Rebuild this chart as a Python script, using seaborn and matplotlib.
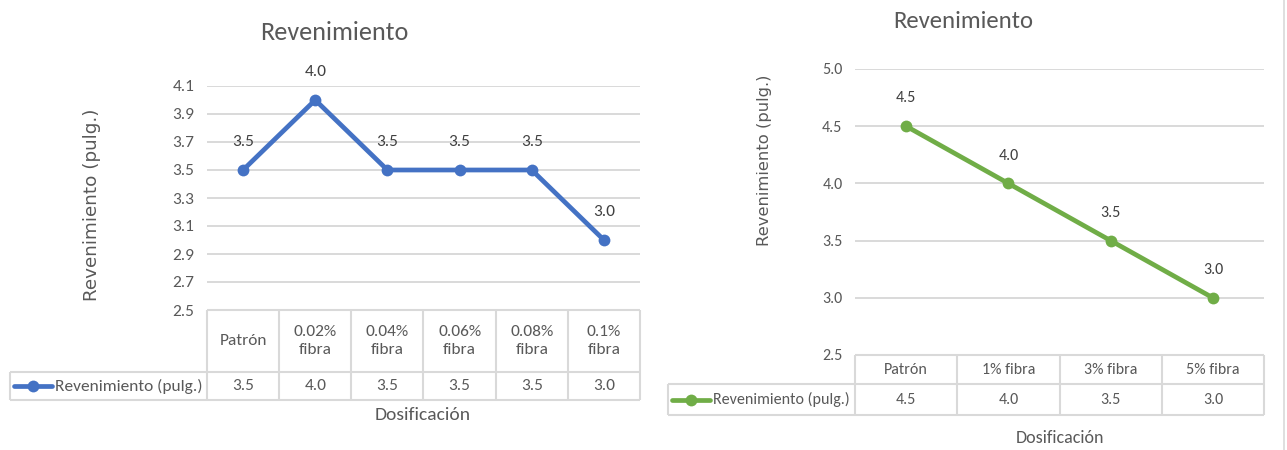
import numpy as np
import pandas as pd
import matplotlib
matplotlib.use("Agg")
import matplotlib.pyplot as plt
import matplotlib.transforms as mtransforms
import seaborn as sns

# --- datos ---
cat_izq = ["Patrón", "0.02%\nfibra", "0.04%\nfibra", "0.06%\nfibra", "0.08%\nfibra", "0.1%\nfibra"]
rev_izq = [3.5, 4.0, 3.5, 3.5, 3.5, 3.0]
ticks_izq = [2.5, 2.7, 2.9, 3.1, 3.3, 3.5, 3.7, 3.9, 4.1]

cat_der = ["Patrón", "1% fibra", "3% fibra", "5% fibra"]
rev_der = [4.5, 4.0, 3.5, 3.0]
ticks_der = [2.5, 3.0, 3.5, 4.0, 4.5, 5.0]

serie = "Revenimiento (pulg.)"
titulo = "Revenimiento"
eje_x = "Dosificación"

AZUL = "#4472C4"
VERDE = "#70AD47"
GRIS_TXT = "#595959"
GRIS_LIN = "#D9D9D9"

sns.set_theme(style="white")
plt.rcParams["font.family"] = ["Carlito", "Lato", "DejaVu Sans"]

W, H = 1287, 450
fig = plt.figure(figsize=(W / 100, H / 100), dpi=100)
fig.patch.set_facecolor("white")

# capa de fondo en pixeles para tabla y textos
over = fig.add_axes([0, 0, 1, 1])
over.set_xlim(0, W)
over.set_ylim(H, 0)
over.axis("off")


def grafico(cats, vals, ticks, color, x0, x1, ytop, ybot, yhead, yrow, lab_x,
            tit_xy, ylab_xy, xlab_xy, fs, ylab_fs, tit_fs, xlab_fs):
    n = len(cats)
    ax = fig.add_axes([x0 / W, 1 - ybot / H, (x1 - x0) / W, (ybot - ytop) / H])
    ax.patch.set_visible(False)

    df = pd.DataFrame({"pos": np.arange(n), "valor": vals})
    sns.lineplot(data=df, x="pos", y="valor", ax=ax, color=color, sort=False,
                 linewidth=3.4, marker="o", markersize=8.5, markeredgewidth=0)

    ax.set_xlim(-0.5, n - 0.5)
    ax.set_ylim(ticks[0], ticks[-1])
    ax.set_yticks(ticks)
    ax.set_yticklabels([f"{t:.1f}" for t in ticks])
    ax.set_xticks([])
    ax.set_xlabel("")
    ax.set_ylabel("")
    ax.yaxis.grid(True, color=GRIS_LIN, linewidth=1.4)
    ax.set_axisbelow(True)
    for s in ax.spines.values():
        s.set_visible(False)
    ax.tick_params(axis="y", length=0, pad=9, labelsize=fs, labelcolor=GRIS_TXT)

    # etiquetas de datos
    for i, v in enumerate(vals):
        ax.annotate(f"{v:.1f}", (i, v), xytext=(0, 20), textcoords="offset points",
                    ha="center", va="center", fontsize=fs, color="#404040")

    # tabla de datos
    tr = mtransforms.blended_transform_factory(ax.transData, over.transData)
    kw = dict(color=GRIS_LIN, linewidth=1.5, solid_capstyle="butt")
    over.plot([-0.5, n - 0.5], [ybot, ybot], transform=tr, **kw)
    over.plot([lab_x, x1], [yhead, yhead], **kw)
    over.plot([lab_x, x1], [yrow, yrow], **kw)
    over.plot([lab_x, lab_x], [yhead, yrow], **kw)
    for i in range(n + 1):
        over.plot([i - 0.5, i - 0.5], [ybot, yrow], transform=tr, **kw)
    for i, (c, v) in enumerate(zip(cats, vals)):
        over.text(i, (ybot + yhead) / 2, c, transform=tr, ha="center", va="center",
                  fontsize=fs, color=GRIS_TXT, linespacing=1.4)
        over.text(i, (yhead + yrow) / 2, f"{v:.1f}", transform=tr, ha="center",
                  va="center", fontsize=fs, color=GRIS_TXT)

    # clave de la leyenda
    ym = (yhead + yrow) / 2
    over.plot([lab_x + 4, lab_x + 42], [ym, ym], color=color, linewidth=3.4)
    over.plot([lab_x + 23], [ym], color=color, marker="o", markersize=8.5, markeredgewidth=0)
    over.text(lab_x + 45, ym, serie, ha="left", va="center", fontsize=fs, color=GRIS_TXT)

    over.text(*tit_xy, titulo, ha="center", va="center", fontsize=tit_fs, color=GRIS_TXT)
    over.text(*ylab_xy, serie, ha="center", va="center", rotation=90, fontsize=ylab_fs,
              color=GRIS_TXT, family="DejaVu Sans")
    over.text(*xlab_xy, eje_x, ha="center", va="center", fontsize=xlab_fs, color=GRIS_TXT)
    return ax


grafico(cat_izq, rev_izq, ticks_izq, AZUL, 207, 640, 86, 310, 372, 400, 10,
        (334, 32), (92, 205), (423, 415), 12.5, 13.2, 18.8, 14)
grafico(cat_der, rev_der, ticks_der, VERDE, 855, 1264, 69, 355, 384, 415, 668,
        (963, 22), (765, 160), (1060, 438), 11.5, 11.8, 17.8, 13)

over.plot([1284, 1284], [0, H], color=GRIS_LIN, linewidth=1.2)

fig.savefig("out.png", dpi=100, facecolor="white")
